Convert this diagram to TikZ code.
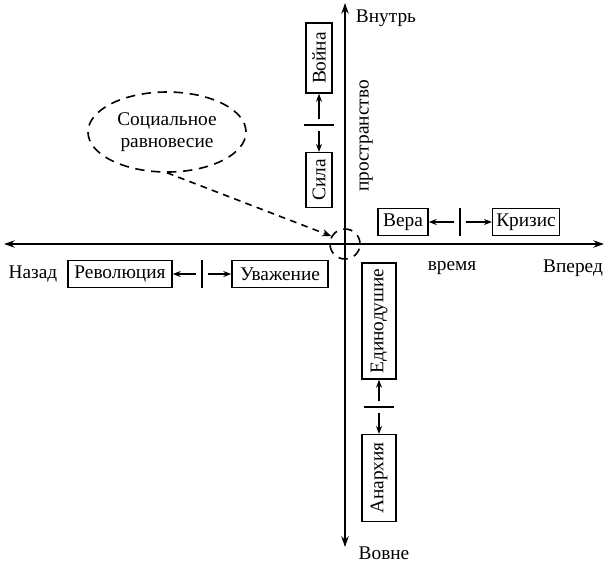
\documentclass[tikz,border=0pt]{standalone}
\usepackage{fontspec}
\setmainfont{Liberation Serif}
\usetikzlibrary{arrows.meta}
\usetikzlibrary{shapes.geometric}

\begin{document}
\begin{tikzpicture}[x=0.75pt,y=-0.75pt,font=\fontsize{14.5}{16.5}\selectfont]
	\useasboundingbox (0,0) rectangle (605,562);
	% axes
	\coordinate (W) at (4,244);
	\coordinate (E) at (604,244);
	\coordinate (N) at (345,3);
	\coordinate (S) at (345,547);
	\begin{scope}[>={Stealth[length=8pt,width=5.5pt]}, line width=1.4pt]
		\draw [<->] (W) -- (E);
		\draw [<->] (N) -- (S);
	\end{scope}
	\begin{scope}[every node/.style = {inner sep=0pt}]
		\node (In) at (386,18) {Внутрь};
		\node (Out) at (384,553) {Вовне};
		\node (Back) at (33,274) {Назад};
		\node (Fwd) at (573,268) {Вперед};
		\node (Time) at (452,268) {время};
		\node[rotate=90] (Space) at (366,136) {пространство};
	\end{scope}
	\begin{scope}[every node/.style = {draw, line width=1.1pt, inner sep=0pt, minimum height=20pt}]
		\node[rotate=90, minimum width=52.5pt, minimum height=19.5pt] (Vojna) at (319,58) {Война};
		\node[rotate=90, minimum width=41pt, minimum height=19.5pt] (Sila) at (319,180) {Сила};
		\node[minimum width=37.5pt] (Vera) at (403,222) {Вера};
		\node[minimum width=50pt] (Krizis) at (526,222) {Кризис};
		\node[minimum width=78pt] (Revol) at (120,274) {Революция};
		\node[minimum width=72pt] (Uvazh) at (280,274) {Уважение};
		\node[rotate=90, minimum width=87pt, minimum height=25.5pt] (Edin) at (379,321) {Единодушие};
		\node[rotate=90, minimum width=65pt, minimum height=25.5pt] (Anar) at (379,478) {Анархия};
	\end{scope}
	\begin{scope}[every node/.style = {inner sep=0pt, minimum height=0pt}]
		\node[minimum width=22.5pt] (T1) at (319,125) {};
		\node[rotate=90, minimum width=21pt] (T2) at (460,222) {};
		\node[rotate=90, minimum width=21pt] (T3) at (202,274) {};
		\node[minimum width=22.5pt] (T4) at (379,407) {};
	\end{scope}
	\begin{scope}[line width=1.1pt]
		\draw (T1.west) -- (T1.east);
		\draw (T2.west) -- (T2.east);
		\draw (T3.west) -- (T3.east);
		\draw (T4.west) -- (T4.east);
	\end{scope}
	\begin{scope}[>={Stealth[length=6pt,width=4.5pt]},
			every edge/.style={draw=black, line width=1.1pt, shorten <=4pt}]
		\path [->] (T1) edge (Vojna);
		\path [->] (T1) edge (Sila);
		\path [->] (T2) edge (Vera);
		\path [->] (T2) edge (Krizis);
		\path [->] (T3) edge (Revol);
		\path [->] (T3) edge (Uvazh);
		\path [->] (T4) edge (Edin);
		\path [->] (T4) edge (Anar);
	\end{scope}
	% equilibrium
	\begin{scope}[every node/.style = {draw, line width=1.2pt, dash pattern=on 7pt off 5pt}]
		\node[ellipse, minimum width=118.5pt, minimum height=60pt, align=center] (Balance) at (167,132) {Социальное\\равновесие};
		\node[circle, minimum size=22.5pt, inner sep=0pt] (Ctr) at (345,244) {};
	\end{scope}
	\draw [->, >={Stealth[length=7pt,width=5.5pt]}, line width=1.2pt, dash pattern=on 5pt off 4pt] (Balance.south) -- (Ctr.150);
\end{tikzpicture}
\end{document}
